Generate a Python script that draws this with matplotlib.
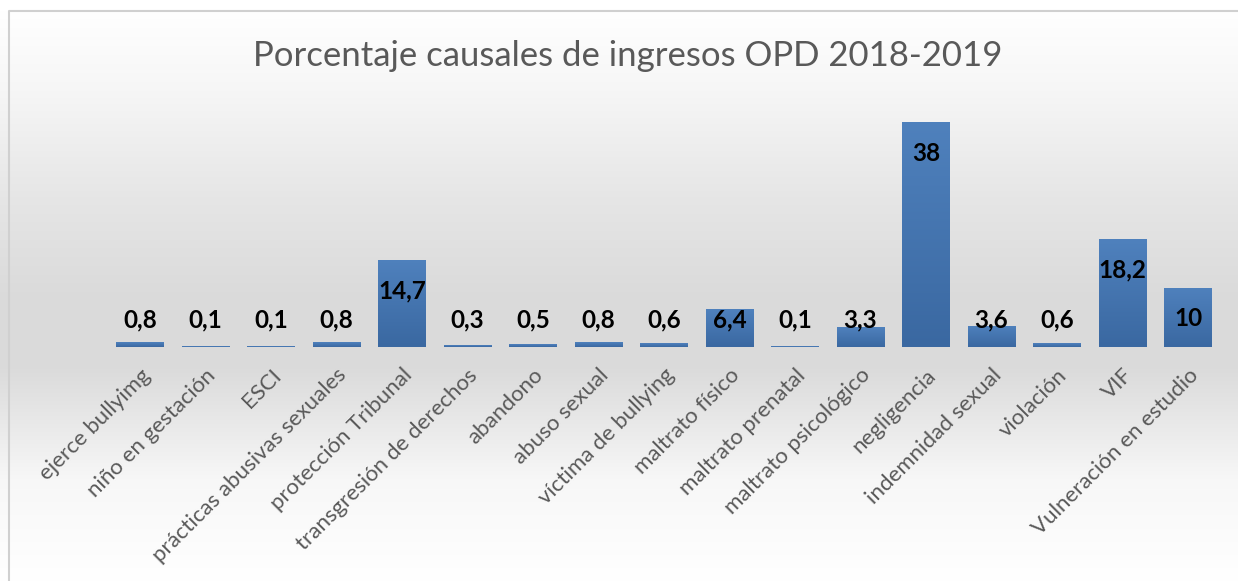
import numpy as np
import matplotlib
matplotlib.use("Agg")
import matplotlib.pyplot as plt
from matplotlib.colors import LinearSegmentedColormap

categories = ["ejerce bullyimg", "niño en gestación", "ESCI", "prácticas abusivas sexuales",
              "protección Tribunal", "transgresión de derechos", "abandono", "abuso sexual",
              "víctima de bullying", "maltrato físico", "maltrato prenatal", "maltrato psicológico",
              "negligencia", "indemnidad sexual", "violación", "VIF", "Vulneración en estudio"]
values = [0.8, 0.1, 0.1, 0.8, 14.7, 0.3, 0.5, 0.8, 0.6, 6.4, 0.1, 3.3, 38, 3.6, 0.6, 18.2, 10]
value_labels = ["0,8", "0,1", "0,1", "0,8", "14,7", "0,3", "0,5", "0,8", "0,6", "6,4", "0,1",
                "3,3", "38", "3,6", "0,6", "18,2", "10"]
title = "Porcentaje causales de ingresos OPD 2018-2019"

W, H = 1238, 581
fig = plt.figure(figsize=(W / 100, H / 100), dpi=100)

# background gradient
bg = fig.add_axes([0, 0, 1, 1])
ys = np.array([0, 10, 90, 200, 300, 365, 480, 581])
vs = np.array([1.0, 1.0, 0.965, 0.90, 0.855, 0.855, 0.97, 1.0])
col = np.interp(np.arange(H), ys, vs)
img = np.repeat(col[:, None], 10, axis=1)
bg.imshow(np.dstack([img, img, img]), aspect="auto", extent=[0, W, H, 0])
bg.set_xlim(0, W)
bg.set_ylim(H, 0)
bg.axis("off")
# border
bg.plot([8.5, 8.5, W + 5], [H + 5, 10.5, 10.5], color="#d0d0d0", lw=1.5)

px_per_unit = 5.92
ax_bottom_px = 347
ax_top_px = ax_bottom_px - 40 * px_per_unit
x0 = 140 - 65.5 * 0.5
x1 = 140 + 65.5 * 16.5
ax = fig.add_axes([x0 / W, (H - ax_bottom_px) / H, (x1 - x0) / W, (ax_bottom_px - ax_top_px) / H])
ax.patch.set_alpha(0)
ax.set_xlim(-0.5, len(values) - 0.5)
ax.set_ylim(0, 40)

x = np.arange(len(values))
bars = ax.bar(x, values, width=0.73, color="#4575ae", zorder=2)

grad = LinearSegmentedColormap.from_list("g", ["#3a68a1", "#4f81bd"])
gimg = np.linspace(0, 1, 256)[:, None]
for b in bars:
    bx, by, bw, bh = b.get_x(), b.get_y(), b.get_width(), b.get_height()
    im = ax.imshow(gimg, cmap=grad, aspect="auto", extent=[bx, bx + bw, 0, max(bh, 0.01)],
                   origin="lower", zorder=2.5)
    im.set_clip_path(b)
ax.set_xlim(-0.5, len(values) - 0.5)
ax.set_ylim(0, 40)

for xi, v, lab in zip(x, values, value_labels):
    ly = max(v - 5.25, 4.55)
    ax.text(xi, ly, lab, ha="center", va="center", fontsize=17.5, fontweight="bold",
            family="Lato", color="black", zorder=4)

for s in ax.spines.values():
    s.set_visible(False)
ax.set_yticks([])
ax.set_xticks(x)
ax.set_xticklabels(categories, rotation=45, ha="right", rotation_mode="anchor",
                   fontsize=16, family="Lato", color="#595959")
ax.tick_params(axis="x", length=0, pad=13)

fig.text(628 / W, 1 - 56 / H, title, ha="center", va="center", fontsize=25,
         family="Lato", color="#595959")

fig.savefig("out.png", dpi=100)
